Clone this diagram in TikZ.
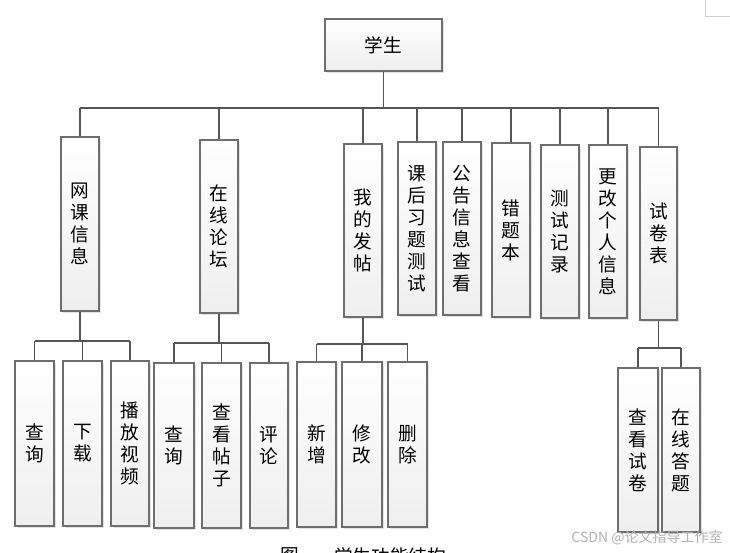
\documentclass[tikz,border=0pt]{standalone}
\usepackage{fontspec}
\newfontfamily\cjk{Noto Sans CJK SC}
\usetikzlibrary{shadows}
\definecolor{lncol}{HTML}{555555}
\definecolor{bdcol}{HTML}{6E6E6E}
\tikzset{
  box/.style={rectangle, draw=bdcol, line width=0.9pt, top color=white, bottom color=gray!13,
    drop shadow={shadow xshift=1.4pt, shadow yshift=-1.4pt, opacity=0.22, fill=gray},
    inner sep=0pt, align=center, font=\cjk\fontsize{14}{16.5}\selectfont},
  conn/.style={draw=lncol, line width=1.1pt},
}
\newcommand\mybox[6]{\node[box, minimum width={(#4-#2)*0.75pt}, minimum height={(#5-#3)*0.75pt}] (#1) at ({(#2+#4)/2},{(#3+#5)/2}) {#6};}
\begin{document}
\begin{tikzpicture}[x=0.75pt,y=-0.75pt]
\useasboundingbox (0,0) rectangle (730,552);
\fill[white] (0,0) rectangle (730,552);
\draw[gray!40, line width=0.75pt] (705,0) -- (705,17) -- (730,17);

\mybox{root}{325}{19}{442}{71}{学生}
\mybox{a}{61}{137}{99}{311}{网\\课\\信\\息}
\mybox{b}{200}{140}{238}{313}{在\\线\\论\\坛}
\mybox{c}{344}{144}{382}{317}{我\\的\\发\\帖}
\mybox{d}{398}{142}{436}{315}{课\\后\\习\\题\\测\\试}
\mybox{e}{443}{142}{481}{315}{公\\告\\信\\息\\查\\看}
\mybox{f}{492}{143}{530}{317}{错\\题\\本}
\mybox{g}{541}{145}{579}{318}{测\\试\\记\\录}
\mybox{h}{589}{145}{627}{318}{更\\改\\个\\人\\信\\息}
\mybox{i}{640}{147}{677}{320}{试\\卷\\表}

\mybox{a1}{15}{361}{54}{526}{查\\询}
\mybox{a2}{63}{361}{102}{526}{下\\载}
\mybox{a3}{111}{361}{149}{526}{播\\放\\视\\频}
\mybox{b1}{154}{363}{194}{528}{查\\询}
\mybox{b2}{202}{363}{241}{528}{查\\看\\帖\\子}
\mybox{b3}{250}{363}{288}{528}{评\\论}
\mybox{c1}{297}{362}{336}{527}{新\\增}
\mybox{c2}{342}{362}{382}{527}{修\\改}
\mybox{c3}{388}{362}{427}{527}{删\\除}
\mybox{i1}{618}{368}{658}{532}{查\\看\\试\\卷}
\mybox{i2}{662}{368}{700}{532}{在\\线\\答\\题}

% level 1 connectors
\coordinate (bus) at (0,108);
\draw[conn] (root.south) -- (root.south |- bus);
\draw[conn] (a.north |- bus) -- (i.north |- bus);
\foreach \n in {a,b,c,d,e,f,g,h,i} {\draw[conn] (\n.north) -- (\n.north |- bus);}

% level 2 connectors
\coordinate (busa) at (0,341);
\draw[conn] (a.south) -- (a.south |- busa);
\draw[conn] (a1.north |- busa) -- (a3.north |- busa);
\foreach \n in {a1,a2,a3} {\draw[conn] (\n.north) -- (\n.north |- busa);}

\coordinate (busb) at (0,343);
\draw[conn] (b.south) -- (b.south |- busb);
\draw[conn] (b1.north |- busb) -- (b3.north |- busb);
\foreach \n in {b1,b2,b3} {\draw[conn] (\n.north) -- (\n.north |- busb);}

\coordinate (busc) at (0,344);
\draw[conn] (c.south) -- (c.south |- busc);
\draw[conn] (c1.north |- busc) -- (c3.north |- busc);
\foreach \n in {c1,c2,c3} {\draw[conn] (\n.north) -- (\n.north |- busc);}

\coordinate (busi) at (0,348);
\draw[conn] (i.south) -- (i.south |- busi);
\draw[conn] (i1.north |- busi) -- (i2.north |- busi);
\foreach \n in {i1,i2} {\draw[conn] (\n.north) -- (\n.north |- busi);}

% caption (cut off at page bottom) and watermark
\node[anchor=north west, inner sep=0pt, font=\cjk\fontsize{14}{16}\selectfont] (cap1) at (280,547) {图};
\node[anchor=north west, inner sep=0pt, font=\cjk\fontsize{14}{16}\selectfont] (cap2) at (334,547) {学生功能结构};
\node[inner sep=0pt, text=gray!60, font=\cjk\fontsize{10.5}{12}\selectfont] (wm) at (647,538) {CSDN @论文指导工作室};
\end{tikzpicture}
\end{document}
